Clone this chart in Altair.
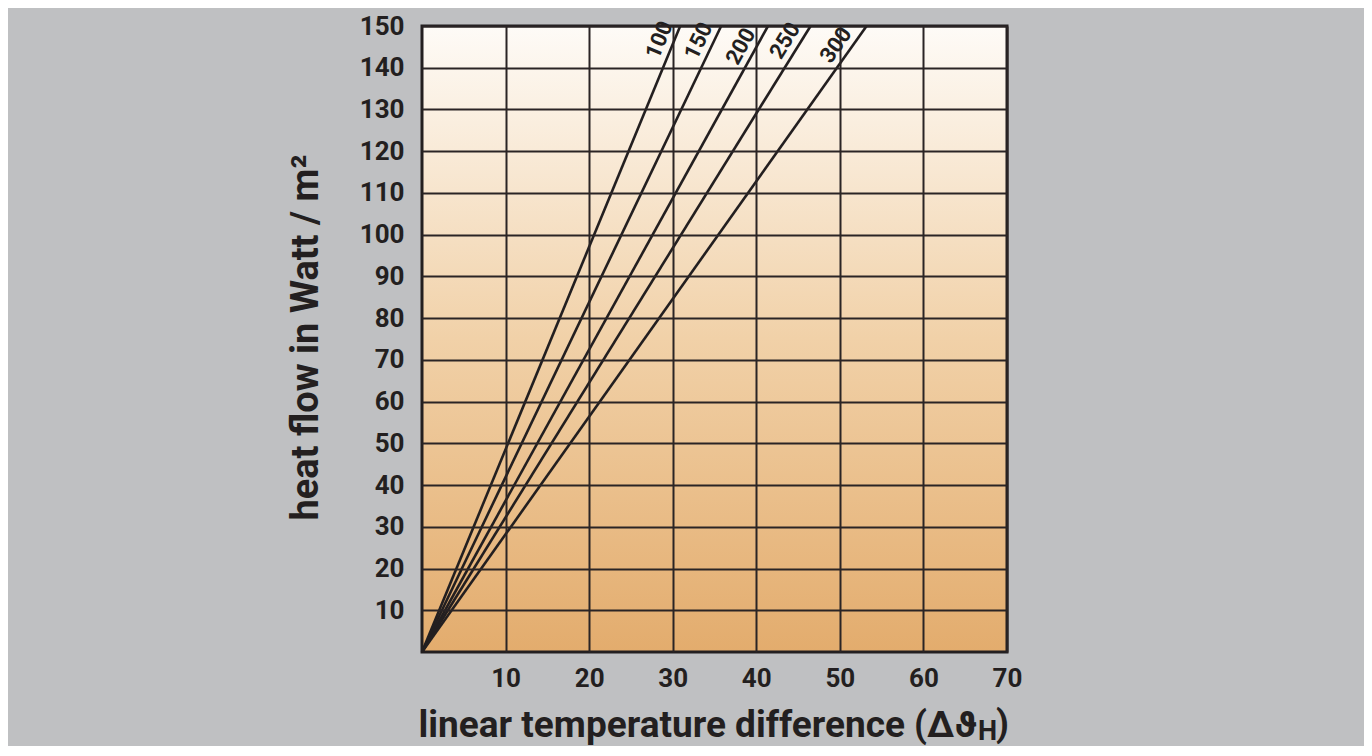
import math
import altair as alt
import pandas as pd

# ---- data ----
series = ["100", "150", "200", "250", "300"]
x_at_top = [30.9, 35.8, 41.4, 46.5, 53.2]      # temperature difference where each line reaches 150 W/m²
label_y = [145.4, 145.0, 143.5, 144.7, 143.5]  # height of each line label
x_ticks = [10, 20, 30, 40, 50, 60, 70]
y_ticks = [10, 20, 30, 40, 50, 60, 70, 80, 90, 100, 110, 120, 130, 140, 150]
X_MAX, Y_MAX = 70, 150

W, H = 585, 626
INK = "#231f20"
FONT = "Roboto, DejaVu Sans"

rows = []
for s, xe in zip(series, x_at_top):
    rows.append({"s": s, "x": 0.0, "y": 0.0})
    rows.append({"s": s, "x": xe, "y": float(Y_MAX)})
lines_df = pd.DataFrame(rows)

lab = []
for s, xe, ly in zip(series, x_at_top, label_y):
    ang = math.degrees(math.atan2(H, xe / X_MAX * W))
    lab.append({"s": s, "x": xe * ly / Y_MAX, "y": ly, "angle": 360 - ang})
lab_df = pd.DataFrame(lab)

frame_df = pd.DataFrame({"x0": [0], "x1": [X_MAX], "y0": [0], "y1": [Y_MAX]})

xs = alt.Scale(domain=[0, X_MAX], nice=False, zero=True)
ys = alt.Scale(domain=[0, Y_MAX], nice=False, zero=True)

xaxis = alt.Axis(values=x_ticks, grid=True, gridColor="#2a2425", gridWidth=2, domain=False,
                 ticks=False, labelFont=FONT, labelFontSize=26, labelFontWeight="bold",
                 labelColor=INK, labelPadding=13, labelFlush=False, labelOverlap=False,
                 title="linear temperature difference (Δϑ", titleFont=FONT, titleFontSize=37,
                 titleFontWeight="bold", titleColor=INK, titleX=-4, titleY=84,
                 titleAlign="left", titleBaseline="alphabetic", titleAnchor="start", zindex=1)
yaxis = alt.Axis(values=y_ticks, grid=True, gridColor="#2a2425", gridWidth=2, domain=False,
                 ticks=False, labelFont=FONT, labelFontSize=26, labelFontWeight="bold",
                 labelColor=INK, labelPadding=18, labelFlush=False, labelOverlap=False,
                 title="heat flow in Watt / m²", titleFont=FONT, titleFontSize=38,
                 titleFontWeight="bold", titleColor=INK, titleAngle=270, titleX=-105,
                 titleY=311, titleAlign="center", titleBaseline="alphabetic", zindex=1)

grad = alt.Gradient(gradient="linear",
                    stops=[alt.GradientStop(color="#fefbf7", offset=0),
                           alt.GradientStop(color="#f1d1a8", offset=0.5),
                           alt.GradientStop(color="#e3ac6d", offset=1)],
                    x1=0, x2=0, y1=0, y2=1)

bg = alt.Chart(frame_df).mark_rect(color=grad).encode(
    x=alt.X("x0:Q", scale=xs, axis=xaxis), x2="x1",
    y=alt.Y("y0:Q", scale=ys, axis=yaxis), y2="y1")

lines = alt.Chart(lines_df).mark_line(color=INK, strokeWidth=2.6).encode(
    x=alt.X("x:Q", scale=xs), y=alt.Y("y:Q", scale=ys), detail="s:N")

labels = alt.Chart(lab_df).mark_text(font=FONT, fontSize=22, fontWeight="bold", color=INK,
                                     align="center", baseline="bottom", dy=-2).encode(
    x=alt.X("x:Q", scale=xs), y=alt.Y("y:Q", scale=ys), text="s:N",
    angle=alt.Angle("angle:Q", scale=None))

frame = alt.Chart(frame_df).mark_rect(filled=False, stroke=INK, strokeWidth=3).encode(
    x=alt.X("x0:Q", scale=xs), x2="x1", y=alt.Y("y0:Q", scale=ys), y2="y1")

sub = alt.Chart(pd.DataFrame({"t": ["H"]})).mark_text(
    font=FONT, fontSize=27, fontWeight="bold", color=INK, align="left",
    baseline="alphabetic").encode(text="t:N", x=alt.value(556), y=alt.value(714))
paren = alt.Chart(pd.DataFrame({"t": [")"]})).mark_text(
    font=FONT, fontSize=37, fontWeight="bold", color=INK, align="left",
    baseline="alphabetic").encode(text="t:N", x=alt.value(574), y=alt.value(710))

chart = alt.layer(bg, lines, labels, frame, sub, paren).properties(
    width=W, height=H, background="#bfc0c2",
    padding={"left": 414, "top": 18, "right": 357, "bottom": 94},
    autosize=alt.AutoSizeParams(type="none"),
).configure_view(stroke=None)

chart.save("out.html", embed_options={"renderer": "svg", "actions": False})
